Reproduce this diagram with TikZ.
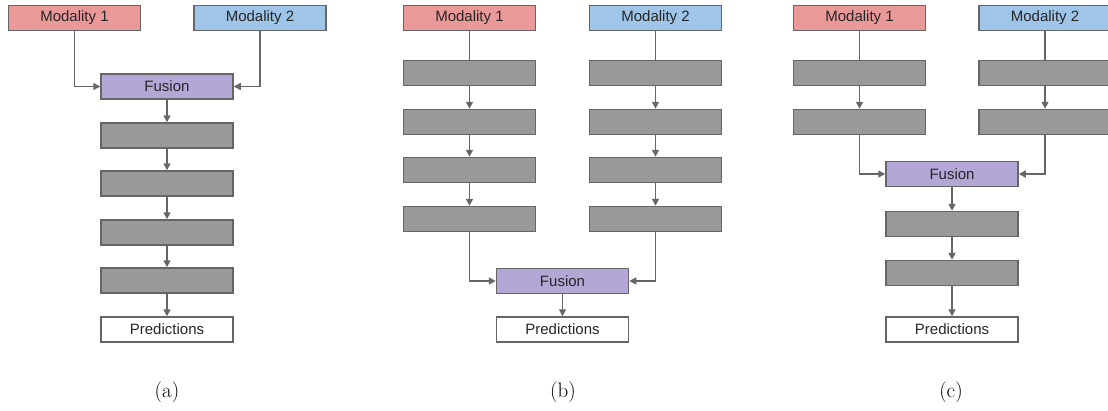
\documentclass[tikz,border=0pt]{standalone}
\usepackage{fontspec}
\newfontfamily\boxFont{Liberation Sans}
\usetikzlibrary{arrows.meta}
\definecolor{modRed}{HTML}{EA9999}
\definecolor{modBlue}{HTML}{9FC5E8}
\definecolor{fusePurple}{HTML}{B4A7D6}
\definecolor{layerGray}{HTML}{999999}
\definecolor{edgeGray}{HTML}{666666}
\newcommand{\layer}[3]{%%
  \node[layerStyle] (#1) at (#2,#3) {};
}
\newcommand{\modPair}[5]{%%
  \node[modOneStyle] (#1one) at (#2,18) {Modality 1};
  \node[modTwoStyle] (#1two) at (#3,18) {Modality 2};
  \node[fuseStyle] (#1fuse) at (#4,#5) {Fusion};
}

\begin{document}
\begin{tikzpicture}[%%
  x=1pt,y=-1pt,%%
  boxStyle/.style={draw=edgeGray,line width=1.5pt,minimum width=132pt,minimum height=25pt,inner sep=0pt,text=black!85,font=\boxFont\fontsize{15}{17}\selectfont},%%
  modOneStyle/.style={boxStyle,fill=modRed},%%
  modTwoStyle/.style={boxStyle,fill=modBlue},%%
  fuseStyle/.style={boxStyle,fill=fusePurple},%%
  layerStyle/.style={boxStyle,fill=layerGray},%%
  predStyle/.style={boxStyle,fill=white},%%
  arrowStyle/.style={-{Triangle[length=7pt,width=7pt]},draw=edgeGray,line width=1.5pt},%%
  lineStyle/.style={-,draw=edgeGray,line width=1.5pt},%%
  captionStyle/.style={font=\fontsize{21}{25}\selectfont}
]
\clip (0,0) rectangle (1108,410);
%%
%% (a) early fusion.
\modPair{a}{74.5}{260}{167}{86.5}
\foreach \i/\y in {1/135.5,2/183.5,3/232.5,4/280.5}{
  \layer{a\i}{167}{\y}
}
\node[predStyle] (apred) at (167,329.5) {Predictions};
\draw[arrowStyle] (aone) |- (afuse);
\draw[arrowStyle] (atwo) |- (afuse);
\draw[arrowStyle] (afuse) -- (a1);
\foreach \i/\j in {1/2,2/3,3/4}{
  \draw[arrowStyle] (a\i) -- (a\j);
}
\draw[arrowStyle] (a4) -- (apred);
\node[captionStyle] (capa) at (167,392) {(a)};
%%
%% (b) late fusion.
\modPair{b}{469.5}{655.5}{562.5}{281}
\foreach \i/\y in {1/73,2/122,3/170,4/219}{
  \layer{bl\i}{469.5}{\y}
  \layer{br\i}{655.5}{\y}
}
\node[predStyle] (bpred) at (562.5,329.5) {Predictions};
\draw[lineStyle] (bone) -- (bl1);
\draw[lineStyle] (btwo) -- (br1);
\foreach \i/\j in {1/2,2/3,3/4}{
  \draw[arrowStyle] (bl\i) -- (bl\j);
  \draw[arrowStyle] (br\i) -- (br\j);
}
\draw[arrowStyle] (bl4) |- (bfuse);
\draw[arrowStyle] (br4) |- (bfuse);
\draw[arrowStyle] (bfuse) -- (bpred);
\node[captionStyle] (capb) at (563,392) {(b)};
%%
%% (c) intermediate fusion.
\modPair{c}{859.5}{1045}{952}{174}
\foreach \i/\y in {1/73,2/122}{
  \layer{cl\i}{859.5}{\y}
  \layer{cr\i}{1045}{\y}
}
\layer{cf1}{952}{224}
\layer{cf2}{952}{273}
\node[predStyle] (cpred) at (952,329.5) {Predictions};
\draw[lineStyle] (cone) -- (cl1);
\draw[lineStyle] (ctwo) -- (cr1);
\draw[arrowStyle] (cl1) -- (cl2);
\draw[arrowStyle] (cr1) -- (cr2);
\draw[arrowStyle] (cl2) |- (cfuse);
\draw[arrowStyle] (cr2) |- (cfuse);
\draw[arrowStyle] (cfuse) -- (cf1);
\draw[arrowStyle] (cf1) -- (cf2);
\draw[arrowStyle] (cf2) -- (cpred);
\node[captionStyle] (capc) at (951,392) {(c)};
\end{tikzpicture}
\end{document}
